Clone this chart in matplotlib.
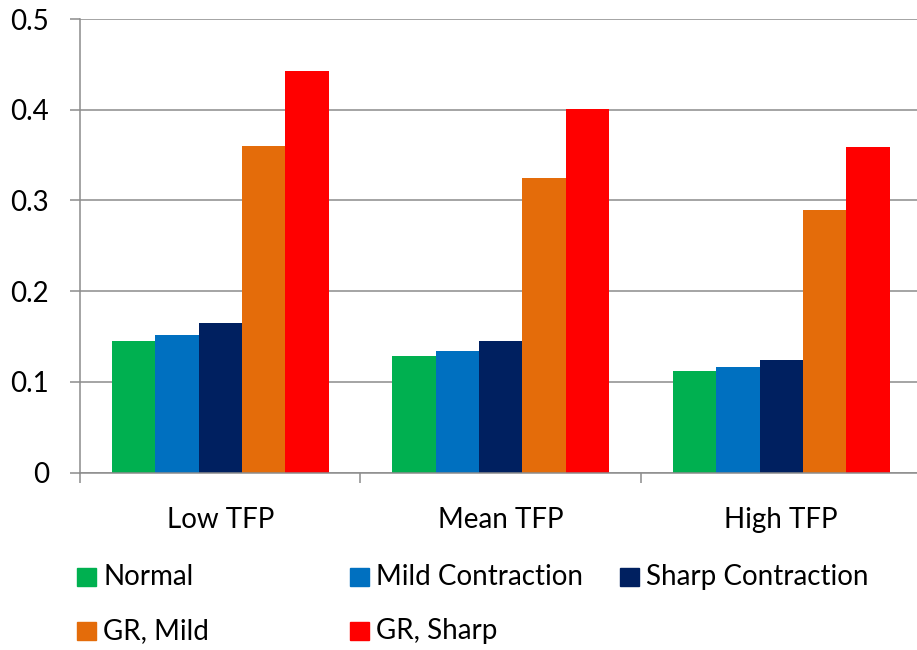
import numpy as np
import matplotlib
matplotlib.use('Agg')
import matplotlib.pyplot as plt
from matplotlib.patches import Rectangle

plt.rcParams['font.family'] = ['Lato', 'DejaVu Sans']

categories = ['Low TFP', 'Mean TFP', 'High TFP']
series_names = ['Normal', 'Mild Contraction', 'Sharp Contraction', 'GR, Mild', 'GR, Sharp']
normal = [0.145, 0.128, 0.112]
mild_contraction = [0.152, 0.134, 0.116]
sharp_contraction = [0.165, 0.145, 0.124]
gr_mild = [0.360, 0.325, 0.289]
gr_sharp = [0.443, 0.401, 0.359]
colors = ['#00B050', '#0070C0', '#002060', '#E46C0A', '#FF0000']
values = [normal, mild_contraction, sharp_contraction, gr_mild, gr_sharp]

W, H = 917, 650
fs = 20
fig = plt.figure(figsize=(W / 100, H / 100), dpi=100)
# plot area in pixels: left 80, top 19, bottom 472.5, category width 280.5
ax = fig.add_axes([80 / W, (H - 472.5) / H, 841.5 / W, 453.5 / H])

x = np.arange(len(categories))
bw = 0.155
for i, (vals, c) in enumerate(zip(values, colors)):
    ax.bar(x + (i - 2) * bw, vals, width=bw, color=c, zorder=3)

grid_c = '#8C8C8C'
ax.set_xlim(-0.5, 2.5)
ax.set_ylim(0, 0.5)
ax.set_yticks([0, 0.1, 0.2, 0.3, 0.4, 0.5])
ax.set_yticklabels(['0', '0.1', '0.2', '0.3', '0.4', '0.5'])
ax.yaxis.grid(True, color=grid_c, linewidth=1.1, zorder=0)
ax.set_xticks(x)
ax.set_xticklabels(categories)
ax.set_xticks([-0.5, 0.5, 1.5], minor=True)
ax.tick_params(axis='x', which='major', length=0, pad=25, labelsize=fs)
ax.tick_params(axis='x', which='minor', length=7.5, width=1.1, color=grid_c)
ax.tick_params(axis='y', length=7.5, width=1.1, color=grid_c, pad=15, labelsize=fs)
for s in ['top', 'right']:
    ax.spines[s].set_visible(False)
for s in ['left', 'bottom']:
    ax.spines[s].set_color(grid_c)
    ax.spines[s].set_linewidth(1.1)
    ax.spines[s].set_zorder(4)

# legend laid out like Excel: 3 columns, 2 rows
col_x = [77, 350, 620]
row_y = [577, 631]
for i, (name, c) in enumerate(zip(series_names, colors)):
    r, k = divmod(i, 3)
    px, py = col_x[k], row_y[r]
    fig.patches.append(Rectangle((px / W, 1 - (py + 9) / H), 19 / W, 18 / H,
                                 transform=fig.transFigure, color=c))
    fig.text((px + 26) / W, 1 - py / H, name, fontsize=fs, va='center', ha='left')

fig.savefig('out.png', dpi=100)
